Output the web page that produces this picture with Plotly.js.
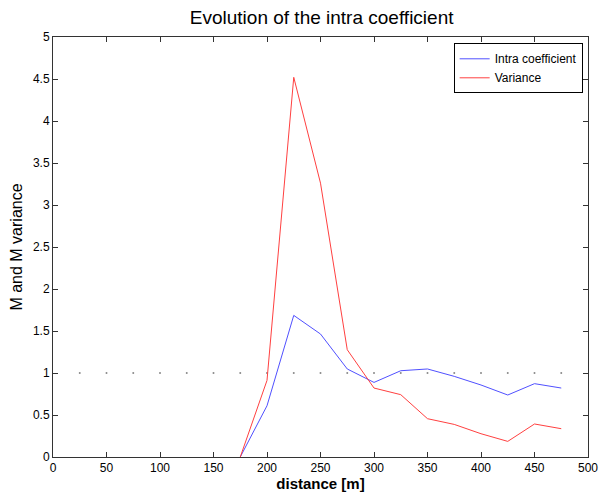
<!DOCTYPE html>
<html>
<head>
<meta charset="utf-8">
<script src="https://cdn.plot.ly/plotly-3.0.1.min.js"></script>
<style>html,body{margin:0;padding:0;background:#fff;}#chart{width:599px;height:497px;}</style>
</head>
<body>
<div id="chart"></div>
<script>
const distance = [175, 200, 225, 250, 275, 300, 325, 350, 375, 400, 425, 450, 475];
const intraCoefficient = [0, 0.61, 1.686, 1.464, 1.048, 0.888, 1.027, 1.048, 0.96, 0.857, 0.738, 0.873, 0.821];
const variance = [0, 0.912, 4.52, 3.26, 1.277, 0.821, 0.742, 0.456, 0.388, 0.277, 0.186, 0.393, 0.337];
const refX = [25, 50, 75, 100, 125, 150, 175, 200, 225, 250, 275, 300, 325, 350, 375, 400, 425, 450, 475];
const refY = [1, 1, 1, 1, 1, 1, 1, 1, 1, 1, 1, 1, 1, 1, 1, 1, 1, 1, 1];

const font = "Liberation Sans, Arial, sans-serif";
const traces = [
  {x: refX, y: refY, mode: 'markers', marker: {size: 2, color: '#888'}, showlegend: false, hoverinfo: 'skip'},
  {x: distance, y: intraCoefficient, mode: 'lines', name: 'Intra coefficient', line: {color: '#5050ff', width: 1}},
  {x: distance, y: variance, mode: 'lines', name: 'Variance', line: {color: '#ff4040', width: 1}}
];
const axisCommon = {
  showgrid: false, zeroline: false, showline: true, linecolor: '#333', linewidth: 1,
  mirror: 'ticks', ticks: 'inside', ticklen: 5, tickcolor: '#333',
  ticklabeloverflow: 'allow',
  tickfont: {family: font, size: 12, color: '#000'}
};
const layout = {
  width: 599, height: 497,
  margin: {l: 53, r: 11, t: 37, b: 40},
  paper_bgcolor: '#fff', plot_bgcolor: '#fff',
  font: {family: font, color: '#000'},
  title: {text: 'Evolution of the intra coefficient', font: {family: font, size: 19, color: '#000'}, x: 0.537, xanchor: 'center', y: 0.965, yanchor: 'middle'},
  xaxis: Object.assign({}, axisCommon, {range: [0, 500], dtick: 50, tick0: 0,
    title: {text: '<b>distance [m]</b>', font: {family: font, size: 15, color: '#000'}, standoff: 2}}),
  yaxis: Object.assign({}, axisCommon, {range: [0, 5], dtick: 0.5, tick0: 0,
    title: {text: 'M and M variance', font: {family: font, size: 16, color: '#000'}, standoff: 6}}),
  legend: {x: 0.99, xanchor: 'right', y: 0.985, yanchor: 'top', bgcolor: '#fff',
    bordercolor: '#000', borderwidth: 1, font: {family: font, size: 12, color: '#000'},
    tracegroupgap: 0, itemwidth: 30}
};
Plotly.newPlot('chart', traces, layout, {staticPlot: true, displayModeBar: false});
</script>
</body>
</html>
